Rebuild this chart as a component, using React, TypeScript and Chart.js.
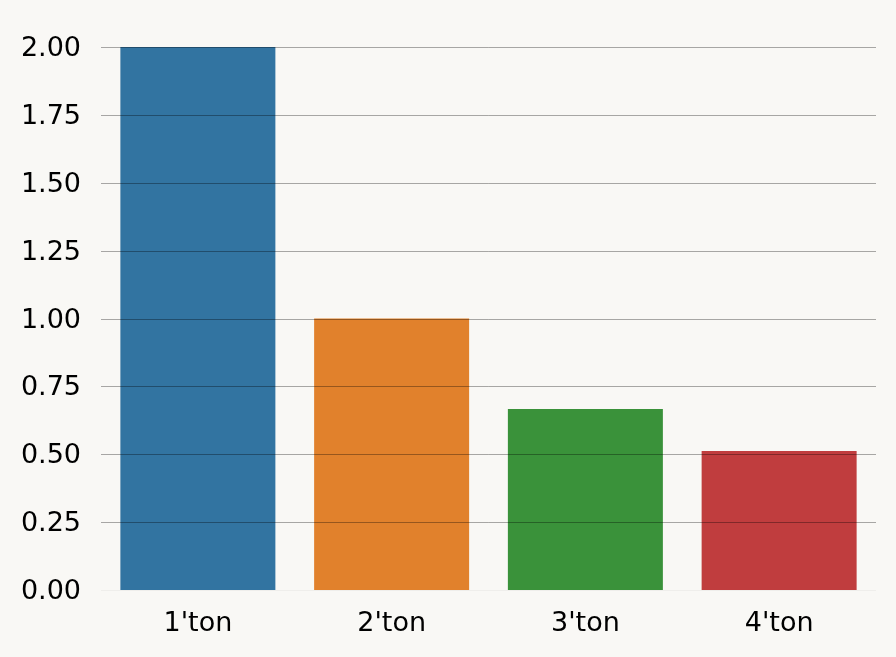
import React, { useEffect, useRef } from "react";
import { Chart, registerables } from "chart.js";

Chart.register(...registerables);

const categories = ["1'ton", "2'ton", "3'ton", "4'ton"];
const values = [2.0, 1.0, 0.667, 0.512];
const barColors = ["#3274a1", "#e1812c", "#3a923a", "#c03d3e"];

const W = 896;
const H = 657;
const BG = "#f9f8f5";

const bgPlugin = {
  id: "bgfill",
  beforeDraw(chart: any) {
    const ctx = chart.ctx;
    ctx.save();
    ctx.fillStyle = BG;
    ctx.fillRect(0, 0, chart.width, chart.height);
    ctx.restore();
  },
};

const gridOnTop = {
  id: "gridOnTop",
  afterDatasetsDraw(chart: any) {
    const ctx = chart.ctx;
    const y = chart.scales.y;
    const { left, right } = chart.chartArea;
    ctx.save();
    ctx.lineWidth = 1;
    y.ticks.forEach((t: any) => {
      const py = Math.round(y.getPixelForValue(t.value)) + 0.5;
      ctx.strokeStyle = t.value === 0 ? "rgba(0,0,0,0.04)" : "rgba(0,0,0,0.33)";
      ctx.beginPath();
      ctx.moveTo(left, py);
      ctx.lineTo(right, py);
      ctx.stroke();
    });
    ctx.restore();
  },
};

export default function App() {
  const ref = useRef<HTMLCanvasElement | null>(null);
  useEffect(() => {
    document.body.style.margin = "0";
    document.body.style.background = BG;
    const chart = new Chart(ref.current as HTMLCanvasElement, {
      type: "bar",
      data: {
        labels: categories,
        datasets: [
          {
            data: values,
            backgroundColor: barColors,
            borderWidth: 0,
            categoryPercentage: 0.8,
            barPercentage: 1.0,
          },
        ],
      },
      plugins: [bgPlugin, gridOnTop],
      options: {
        animation: false,
        responsive: false,
        maintainAspectRatio: false,
        layout: { padding: { top: 47, right: 20, left: 0, bottom: 0 } },
        plugins: { legend: { display: false }, tooltip: { enabled: false } },
        scales: {
          x: {
            grid: { display: false, drawTicks: false },
            border: { display: false },
            ticks: {
              color: "#000",
              padding: 18,
              font: { family: "'DejaVu Sans'", size: 27 },
            },
            afterFit(scale: any) {
              scale.height = 67;
            },
          },
          y: {
            min: 0,
            max: 2,
            grid: { display: false, drawTicks: false },
            border: { display: false },
            ticks: {
              stepSize: 0.25,
              color: "#000",
              padding: 20,
              labelOffset: 2,
              font: { family: "'DejaVu Sans'", size: 27 },
              callback: (v: any) => Number(v).toFixed(2),
            },
            afterFit(scale: any) {
              scale.width = 101;
            },
          },
        },
      },
    });
    return () => chart.destroy();
  }, []);
  return (
    <div style={{ position: "absolute", left: 0, top: 0, width: W, height: H, background: BG }}>
      <canvas ref={ref} width={W} height={H} style={{ width: W, height: H, display: "block" }} />
    </div>
  );
}
